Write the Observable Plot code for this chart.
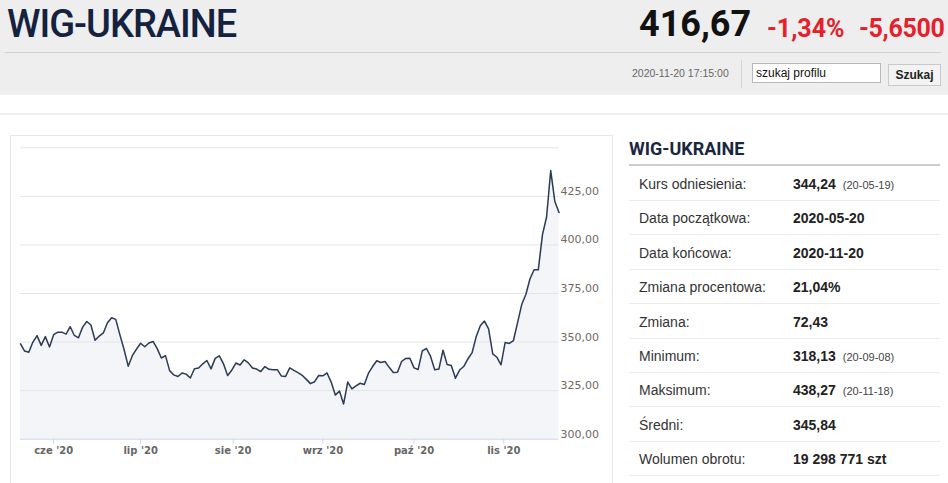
<!DOCTYPE html>
<html>
<head>
<meta charset="utf-8">
<script src="https://cdn.jsdelivr.net/npm/d3@7"></script>
<script src="https://cdn.jsdelivr.net/npm/@observablehq/plot@0.6"></script>
<style>
  html, body { margin: 0; padding: 0; background: #fff; }
  body { width: 948px; height: 483px; position: relative; overflow: hidden; font-family: "Liberation Sans", Arial, sans-serif; }
  .abs { position: absolute; white-space: nowrap; }
  #hdr { left: 0; top: 0; width: 948px; height: 95px; background: #eeeeee; }
  #title { left: 7px; top: 2px; font-family: Roboto, sans-serif; font-weight: 500; font-size: 38px; letter-spacing: -1px; color: #14223f; }
  #last { left: 639px; top: 3px; font-family: Roboto, sans-serif; font-weight: 700; font-size: 36px; color: #111; }
  #pct { left: 767px; top: 14px; font-family: Roboto, sans-serif; font-weight: 700; font-size: 25px; color: #e5202b; }
  #chg { left: 859px; top: 14px; font-family: Roboto, sans-serif; font-weight: 700; font-size: 25px; color: #e5202b; letter-spacing: -0.3px; }
  #hline { left: 5px; top: 52px; width: 936px; height: 1px; background: #d2d2d2; }
  #stamp { left: 632px; top: 67px; font-size: 10.5px; color: #666; }
  #vsep { left: 741px; top: 60px; width: 1px; height: 28px; background: #d6d6d6; }
  #search { left: 752px; top: 63px; width: 129px; height: 20px; background: #fff; border: 1px solid #b9b9b9; box-sizing: border-box; font-size: 12px; color: #111; padding: 2px 0 0 3px; }
  #btn { left: 888px; top: 64px; width: 53px; height: 22px; background: #f3f3f3; border: 1px solid #c9c9c9; box-sizing: border-box; font-size: 12px; font-weight: bold; color: #222; text-align: center; line-height: 20px; }
  #band { left: 0; top: 113px; width: 948px; height: 2px; background: #eeeeee; }
  #box { left: 10px; top: 135px; width: 603px; height: 360px; border: 1px solid #e7e7e7; box-sizing: border-box; }
  #chart { left: 10px; top: 135px; }
  #ptitle { left: 629px; top: 138px; font-family: Roboto, sans-serif; font-weight: 700; font-size: 18px; color: #1b2740; }
  #pline { left: 629px; top: 164px; width: 311px; height: 2px; background: #cdcdcd; }
  .row { position: absolute; left: 629px; width: 311px; height: 34px; border-bottom: 1px solid #ececec; box-sizing: border-box; font-size: 14px; }
  .row .l { position: absolute; left: 10px; top: 9px; color: #333; }
  .row .v { position: absolute; left: 164px; top: 9px; color: #222; font-weight: bold; }
  .row .s { font-weight: normal; font-size: 11px; color: #444; margin-left: 7px; }
</style>
</head>
<body>
<div id="hdr" class="abs"></div>
<div id="title" class="abs">WIG-UKRAINE</div>
<div id="last" class="abs">416,67</div>
<div id="pct" class="abs">-1,34%</div>
<div id="chg" class="abs">-5,6500</div>
<div id="hline" class="abs"></div>
<div id="stamp" class="abs">2020-11-20 17:15:00</div>
<div id="vsep" class="abs"></div>
<div id="search" class="abs">szukaj profilu</div>
<div id="btn" class="abs">Szukaj</div>
<div id="band" class="abs"></div>
<div id="box" class="abs"></div>
<div id="chart" class="abs"></div>
<div id="ptitle" class="abs">WIG-UKRAINE</div>
<div id="pline" class="abs"></div>
<div id="rows"></div>
<script>
// ---- data ----
const dates = [
  "2020-05-20","2020-05-21","2020-05-22","2020-05-25","2020-05-26","2020-05-27","2020-05-28","2020-05-29",
  "2020-06-01","2020-06-02","2020-06-03","2020-06-04","2020-06-05","2020-06-08","2020-06-09","2020-06-10",
  "2020-06-12","2020-06-15","2020-06-16","2020-06-17","2020-06-18","2020-06-19","2020-06-22","2020-06-23",
  "2020-06-24","2020-06-25","2020-06-26","2020-06-29","2020-06-30",
  "2020-07-01","2020-07-02","2020-07-03","2020-07-06","2020-07-07","2020-07-08","2020-07-09","2020-07-10",
  "2020-07-13","2020-07-14","2020-07-15","2020-07-16","2020-07-17","2020-07-20","2020-07-21","2020-07-22",
  "2020-07-23","2020-07-24","2020-07-27","2020-07-28","2020-07-29","2020-07-30","2020-07-31",
  "2020-08-03","2020-08-04","2020-08-05","2020-08-06","2020-08-07","2020-08-10","2020-08-11","2020-08-12",
  "2020-08-13","2020-08-14","2020-08-17","2020-08-18","2020-08-19","2020-08-20","2020-08-21","2020-08-24",
  "2020-08-25","2020-08-26","2020-08-27","2020-08-28","2020-08-31",
  "2020-09-01","2020-09-02","2020-09-03","2020-09-04","2020-09-07","2020-09-08","2020-09-09","2020-09-10",
  "2020-09-11","2020-09-14","2020-09-15","2020-09-16","2020-09-17","2020-09-18","2020-09-21","2020-09-22",
  "2020-09-23","2020-09-24","2020-09-25","2020-09-28","2020-09-29","2020-09-30",
  "2020-10-01","2020-10-02","2020-10-05","2020-10-06","2020-10-07","2020-10-08","2020-10-09","2020-10-12",
  "2020-10-13","2020-10-14","2020-10-15","2020-10-16","2020-10-19","2020-10-20","2020-10-21","2020-10-22",
  "2020-10-23","2020-10-26","2020-10-27","2020-10-28","2020-10-29","2020-10-30",
  "2020-11-02","2020-11-03","2020-11-04","2020-11-05","2020-11-06","2020-11-09","2020-11-10","2020-11-12",
  "2020-11-13","2020-11-16","2020-11-17","2020-11-18","2020-11-19","2020-11-20"
];
const values = [
  349.1,345.4,344.8,350.0,353.3,348.3,352.8,347.5,
  353.8,355.1,355.1,354.1,357.9,353.4,352.2,357.7,
  360.6,358.8,350.9,353.1,354.7,359.9,362.5,361.7,
  353.7,346.2,337.6,343.0,346.4,
  349.4,347.6,349.5,350.3,346.6,341.8,343.0,335.3,
  333.1,332.3,334.1,333.5,331.5,336.3,336.6,338.8,
  340.5,336.2,341.6,342.9,338.8,332.8,335.5,
  339.2,338.2,340.9,339.3,336.7,336.1,334.8,337.4,
  336.0,335.8,335.8,332.5,332.3,336.7,335.4,334.3,
  332.9,330.8,328.6,329.6,332.8,
  332.6,334.1,329.4,322.7,324.8,318.13,329.4,325.9,
  327.4,328.8,328.2,334.0,337.4,340.4,339.5,340.0,
  337.0,334.3,334.5,340.0,341.6,341.7,
  336.7,335.9,345.5,346.7,342.6,335.8,336.1,345.8,
  338.4,337.9,331.4,335.6,337.4,341.3,344.4,352.7,
  358.4,360.8,356.8,343.9,342.2,338.3,
  349.8,349.3,350.8,360.0,369.3,374.5,382.6,387.2,
  387.2,405.2,414.4,438.27,422.32,416.67
];
const monthStarts = ["2020-06-01","2020-07-01","2020-08-01","2020-09-01","2020-10-01","2020-11-01"];
const monthLabels = ["cze '20","lip '20","sie '20","wrz '20","paź '20","lis '20"];
const yTicks = [300, 325, 350, 375, 400, 425];
const yTickLabels = ["300,00","325,00","350,00","375,00","400,00","425,00"];
const gridValues = [325, 350, 375, 400, 425, 450];

const statLabels = ["Kurs odniesienia:","Data początkowa:","Data końcowa:","Zmiana procentowa:","Zmiana:","Minimum:","Maksimum:","Średni:","Wolumen obrotu:"];
const statValues = ["344,24","2020-05-20","2020-11-20","21,04%","72,43","318,13","438,27","345,84","19 298 771 szt"];
const statNotes = ["(20-05-19)","","","","","(20-09-08)","(20-11-18)","",""];

// ---- build table ----
const rowsEl = document.getElementById("rows");
statLabels.forEach((lab, k) => {
  const r = document.createElement("div");
  r.className = "row";
  r.style.top = (167 + k * 34.4) + "px";
  const l = document.createElement("span"); l.className = "l"; l.textContent = lab;
  const v = document.createElement("span"); v.className = "v"; v.textContent = statValues[k];
  if (statNotes[k]) { const s = document.createElement("span"); s.className = "s"; s.textContent = statNotes[k]; v.appendChild(s); }
  r.appendChild(l); r.appendChild(v);
  rowsEl.appendChild(r);
});

// ---- chart (ordinal trading-day axis, as in the original) ----
const times = dates.map(d => +new Date(d));
const data = values.map((v, i) => ({i, v}));
function ordinalPos(ds) {
  const t = +new Date(ds);
  for (let i = 0; i < times.length - 1; i++) {
    if (t >= times[i] && t < times[i + 1]) return i + (t - times[i]) / (times[i + 1] - times[i]);
  }
  return times.length - 1;
}
const tickPos = monthStarts.map(ordinalPos);

const chart = Plot.plot({
  width: 603,
  height: 335,
  marginLeft: 10,
  marginRight: 54.5,
  marginTop: 12.3,
  marginBottom: 31.3,
  style: {background: "transparent", fontFamily: "DejaVu Sans, Verdana, sans-serif", fontSize: "11px", overflow: "visible"},
  x: {domain: [0, values.length - 1], axis: null},
  y: {domain: [300, 450], axis: null},
  marks: [
    Plot.areaY(data, {x: "i", y1: 300, y2: "v", fill: "#f4f5f8", curve: "linear"}),
    Plot.gridY(gridValues, {stroke: "#e4e4e4", strokeOpacity: 1, strokeWidth: 1}),
    Plot.ruleY([300], {stroke: "#ccd6eb"}),
    Plot.lineY(data, {x: "i", y: "v", stroke: "#2b3a57", strokeWidth: 1.5}),
    Plot.axisY(yTicks, {anchor: "right", label: null, tickSize: 0, tickPadding: 1.5, dy: -5, textAnchor: "start",
      tickFormat: d => yTickLabels[yTicks.indexOf(d)], fill: "#6f6963"}),
    Plot.axisX(tickPos, {anchor: "bottom", label: null, tickSize: 5, tickPadding: 3, stroke: "#ccd6eb", fill: "#666",
      fontWeight: "bold", fontSize: 10, tickFormat: d => monthLabels[tickPos.indexOf(d)]})
  ]
});
document.getElementById("chart").appendChild(chart);
</script>
</body>
</html>
